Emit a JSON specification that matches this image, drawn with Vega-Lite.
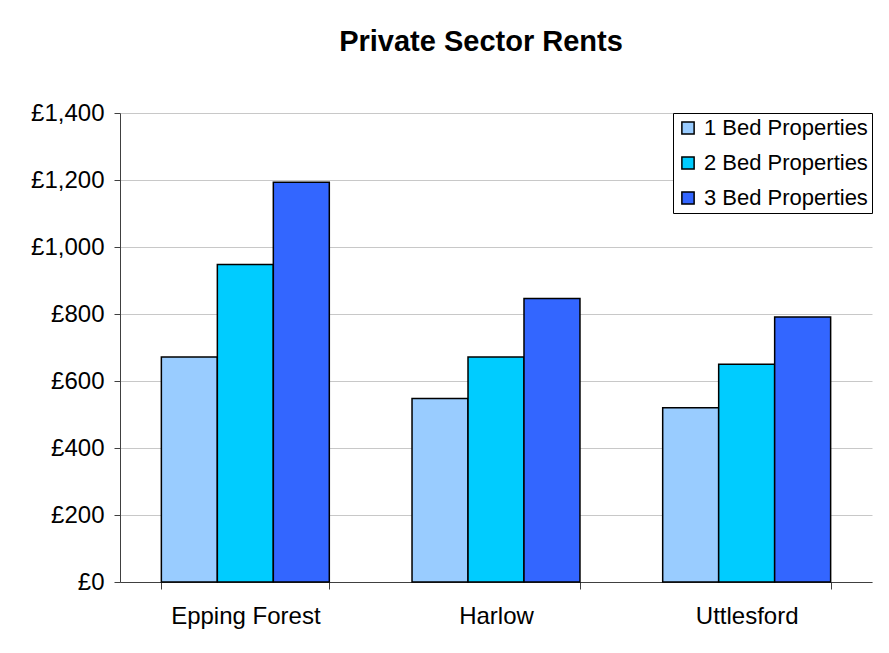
{
  "$schema": "https://vega.github.io/schema/vega-lite/v6.json",
  "width": 752,
  "height": 469,
  "autosize": {"type": "none"},
  "padding": {"left": 120, "top": 113, "right": 17, "bottom": 71},
  "background": "white",
  "title": {
    "text": "Private Sector Rents",
    "font": "Liberation Sans",
    "fontSize": 29,
    "fontWeight": "bold",
    "color": "black",
    "anchor": "middle",
    "dx": -15,
    "offset": 44
  },
  "data": {
    "values": [
      {"area": "Epping Forest", "type": "1 Bed Properties", "rent": 672},
      {"area": "Epping Forest", "type": "2 Bed Properties", "rent": 948},
      {"area": "Epping Forest", "type": "3 Bed Properties", "rent": 1193},
      {"area": "Harlow", "type": "1 Bed Properties", "rent": 548},
      {"area": "Harlow", "type": "2 Bed Properties", "rent": 672},
      {"area": "Harlow", "type": "3 Bed Properties", "rent": 846},
      {"area": "Uttlesford", "type": "1 Bed Properties", "rent": 520},
      {"area": "Uttlesford", "type": "2 Bed Properties", "rent": 650},
      {"area": "Uttlesford", "type": "3 Bed Properties", "rent": 791}
    ]
  },
  "mark": {"type": "bar", "stroke": "black", "strokeWidth": 1.5},
  "encoding": {
    "x": {
      "field": "area",
      "type": "nominal",
      "sort": null,
      "scale": {"paddingInner": 0.33, "paddingOuter": 0.165},
      "axis": {
        "title": null,
        "labelAngle": 0,
        "labelFont": "Liberation Sans",
        "labelFontSize": 24,
        "labelColor": "black",
        "labelPadding": 15,
        "tickBand": "extent",
        "tickSize": 7,
        "tickColor": "#404040",
        "domainColor": "#404040",
        "grid": false
      }
    },
    "xOffset": {"field": "type", "type": "nominal", "scale": {"paddingInner": 0, "paddingOuter": 0}},
    "y": {
      "field": "rent",
      "type": "quantitative",
      "scale": {"domain": [0, 1400], "nice": false},
      "axis": {
        "title": null,
        "values": [0, 200, 400, 600, 800, 1000, 1200, 1400],
        "labelExpr": "'£' + format(datum.value, ',')",
        "labelFont": "Liberation Sans",
        "labelFontSize": 24,
        "labelColor": "black",
        "labelPadding": 10,
        "tickSize": 6,
        "tickColor": "#404040",
        "domainColor": "#404040",
        "gridColor": "#C8C8C8",
        "gridWidth": 1
      }
    },
    "color": {
      "field": "type",
      "type": "nominal",
      "scale": {
        "domain": ["1 Bed Properties", "2 Bed Properties", "3 Bed Properties"],
        "range": ["#99CCFF", "#00CCFF", "#3366FF"]
      },
      "legend": {
        "title": null,
        "orient": "top-right",
        "offset": 0,
        "labelFont": "Liberation Sans",
        "labelFontSize": 22,
        "labelColor": "black",
        "labelLimit": 400,
        "symbolType": "square",
        "symbolSize": 150,
        "symbolStrokeColor": "black",
        "symbolStrokeWidth": 1.5,
        "rowPadding": 13,
        "padding": 4,
        "labelOffset": 5,
        "strokeColor": "black",
        "fillColor": "white",
        "cornerRadius": 0
      }
    }
  },
  "config": {
    "view": {"stroke": null}
  }
}
